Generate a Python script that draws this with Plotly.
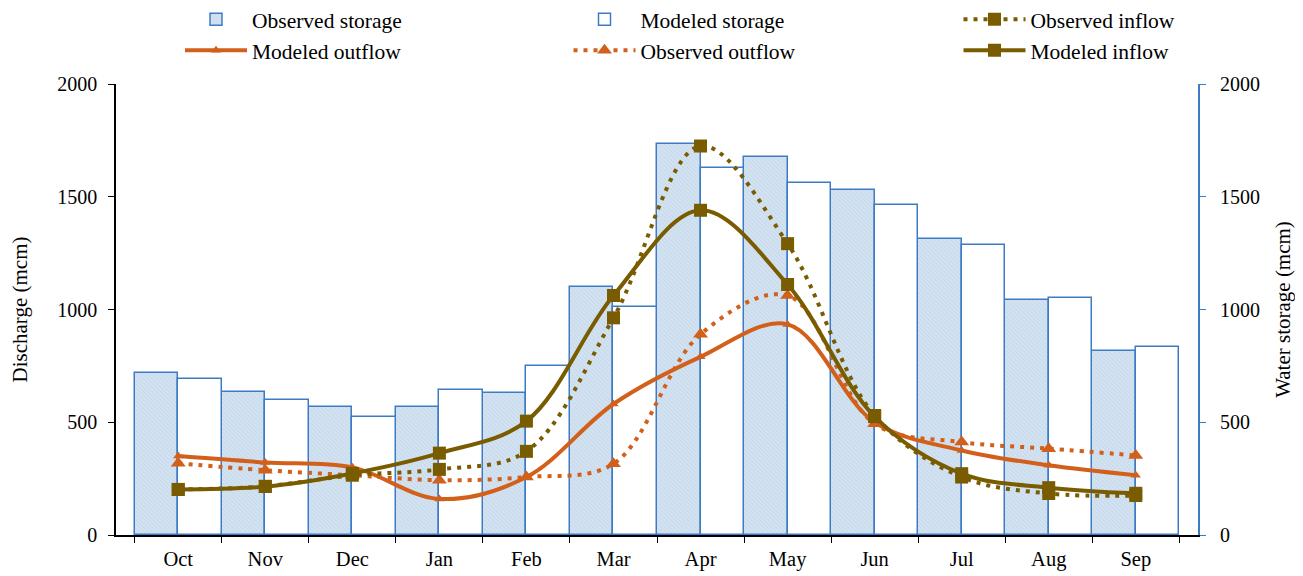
import plotly.graph_objects as go
from plotly.subplots import make_subplots

months = ["Oct", "Nov", "Dec", "Jan", "Feb", "Mar", "Apr", "May", "Jun", "Jul", "Aug", "Sep"]
obs_storage = [718, 634, 569, 568, 630, 1100, 1736, 1678, 1530, 1311, 1043, 816]
mod_storage = [693, 597, 525, 641, 750, 1012, 1628, 1559, 1465, 1286, 1049, 834]
obs_inflow = [202, 216, 265, 291, 371, 963, 1725, 1292, 530, 257, 184, 175]
mod_inflow = [202, 215, 273, 363, 505, 1062, 1440, 1111, 525, 272, 210, 185]
mod_outflow = [350, 322, 300, 160, 257, 581, 790, 934, 500, 375, 309, 265]
obs_outflow = [318, 287, 265, 243, 257, 316, 890, 1062, 493, 412, 383, 353]

BLUE = "#3d7cc4"
ORANGE = "#d2601a"
OLIVE = "#7a5c00"
FONT = "Liberation Serif"

fig = make_subplots(specs=[[{"secondary_y": True}]])

# Storage bars (drawn on the underlying axis so flow lines stay on top)
fig.add_trace(go.Bar(
    x=months, y=obs_storage, name="Observed storage",
    marker=dict(color="#d3e2f1", line=dict(color=BLUE, width=1.5),
                pattern=dict(shape="\\", fgcolor="#a8c3df", bgcolor="#d3e2f1", size=3, solidity=0.25)),
    legend="legend",
), secondary_y=False)
fig.add_trace(go.Bar(
    x=months, y=mod_storage, name="Modeled storage",
    marker=dict(color="white", line=dict(color=BLUE, width=1.5)),
    legend="legend2",
), secondary_y=False)

fig.add_trace(go.Scatter(
    x=months, y=mod_outflow, name="Modeled outflow", mode="lines+markers",
    line=dict(color=ORANGE, width=4, shape="spline", smoothing=1),
    marker=dict(symbol="triangle-up", size=9, color=ORANGE),
    legend="legend",
), secondary_y=True)
fig.add_trace(go.Scatter(
    x=months, y=obs_outflow, name="Observed outflow", mode="lines+markers",
    line=dict(color=ORANGE, width=4, shape="spline", smoothing=1, dash="4px,6px"),
    marker=dict(symbol="triangle-up", size=13, color=ORANGE),
    legend="legend2",
), secondary_y=True)
fig.add_trace(go.Scatter(
    x=months, y=obs_inflow, name="Observed inflow", mode="lines+markers",
    line=dict(color=OLIVE, width=4, shape="spline", smoothing=1, dash="4px,6px"),
    marker=dict(symbol="square", size=13, color=OLIVE),
    legend="legend3",
), secondary_y=True)
fig.add_trace(go.Scatter(
    x=months, y=mod_inflow, name="Modeled inflow", mode="lines+markers",
    line=dict(color=OLIVE, width=4, shape="spline", smoothing=1),
    marker=dict(symbol="square", size=13, color=OLIVE),
    legend="legend3",
), secondary_y=True)

leg_common = dict(orientation="v", xanchor="left", yanchor="top", y=1.189,
                  font=dict(family=FONT, size=21.5, color="black"),
                  itemwidth=62, bgcolor="rgba(0,0,0,0)", traceorder="normal")

# figure is drawn inside the page body (8px default body margin)
W, H = 1287, 568
fig.update_layout(
    width=W, height=H,
    margin=dict(l=108, r=97, t=76, b=41, autoexpand=False),
    paper_bgcolor="white", plot_bgcolor="white",
    barmode="group", bargap=0, bargroupgap=0,
    font=dict(family=FONT, size=20, color="black"),
    legend=dict(x=(172 - 108) / 1082, **leg_common),
    legend2=dict(x=(560.5 - 108) / 1082, **leg_common),
    legend3=dict(x=(950.5 - 108) / 1082, **leg_common),
)

fig.update_xaxes(
    type="category", domain=[0, 1], tickson="boundaries", ticks="outside", ticklen=6,
    tickcolor="black", showline=True, linecolor="black", linewidth=1.5,
    showgrid=False, tickfont=dict(family=FONT, size=20.5), ticklabelstandoff=5,
)
fig.update_yaxes(
    range=[0, 2000], dtick=500, ticks="outside", ticklen=6, tickcolor="black",
    showline=True, linecolor="black", linewidth=1.5, showgrid=False, zeroline=False,
    tickfont=dict(family=FONT, size=20), ticklabelstandoff=7,
    title=dict(text="Discharge (mcm)", font=dict(family=FONT, size=21), standoff=24),
    secondary_y=False,
)
fig.update_yaxes(
    range=[0, 2000], dtick=500, ticks="outside", ticklen=6, tickcolor=BLUE,
    showline=True, linecolor=BLUE, linewidth=2, showgrid=False, zeroline=False,
    tickfont=dict(family=FONT, size=20), ticklabelstandoff=10,
    title=dict(text="Water storage (mcm)", font=dict(family=FONT, size=21), standoff=16),
    secondary_y=True,
)

fig.write_html("out.html")
